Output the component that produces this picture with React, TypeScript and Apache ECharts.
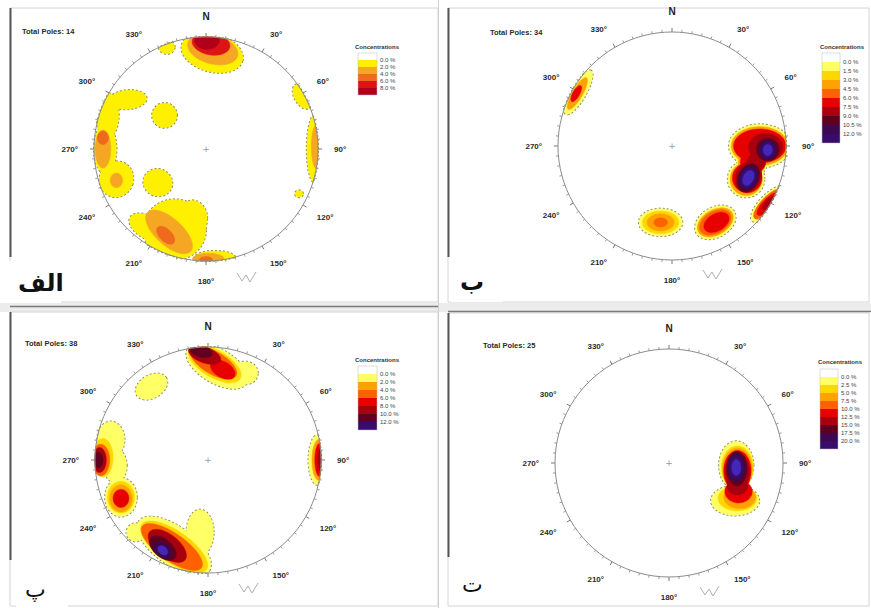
import { useEffect, useRef } from 'react';
import * as echarts from 'echarts';

// ---------- texts ----------
const panelTitles = ['Total Poles: 14', 'Total Poles: 34', 'Total Poles: 38', 'Total Poles: 25'];
const panelTags = ['الف', 'ب', 'پ', 'ت'];
const legendTitle = 'Concentrations';
const legendLabelsA = ['0.0 %', '2.0 %', '4.0 %', '6.0 %', '8.0 %'];
const legendLabelsB = ['0.0 %', '1.5 %', '3.0 %', '4.5 %', '6.0 %', '7.5 %', '9.0 %', '10.5 %', '12.0 %'];
const legendLabelsP = ['0.0 %', '2.0 %', '4.0 %', '6.0 %', '8.0 %', '10.0 %', '12.0 %'];
const legendLabelsT = ['0.0 %', '2.5 %', '5.0 %', '7.5 %', '10.0 %', '12.5 %', '15.0 %', '17.5 %', '20.0 %'];

// ---------- contour shapes ----------
// [east, north, semi-axis a, semi-axis b, rotation (deg), contour level] in unit-net coordinates
const blobsA = [
  [0.055, 0.86, 0.28, 0.17, -15, 1],
  [0.06, 0.89, 0.23, 0.13, -15, 2],
  [0.045, 0.94, 0.17, 0.1, -10, 4],
  [0.01, 0.97, 0.11, 0.08, 0, 5],
  [-0.35, 0.91, 0.07, 0.06, 0, 1],
  [-0.7, 0.44, 0.17, 0.085, 5, 1],
  [-0.88, 0.3, 0.1, 0.2, 0, 1],
  [-0.9, 0.0, 0.1, 0.22, 0, 1],
  [-0.8, -0.27, 0.15, 0.16, -20, 1],
  [-0.92, 0.0, 0.07, 0.17, 0, 2],
  [-0.92, 0.1, 0.05, 0.06, 0, 3],
  [-0.8, -0.28, 0.055, 0.065, 0, 2],
  [-0.37, 0.3, 0.11, 0.11, 0, 1],
  [-0.43, -0.3, 0.13, 0.12, -20, 1],
  [0.86, 0.47, 0.12, 0.07, -60, 1],
  [0.97, 0.0, 0.07, 0.3, 0, 1],
  [0.99, 0.02, 0.05, 0.2, 0, 2],
  [0.83, -0.4, 0.035, 0.03, 0, 1],
  [-0.28, -0.72, 0.28, 0.27, 0, 1],
  [-0.52, -0.7, 0.18, 0.1, -30, 1],
  [-0.12, -0.62, 0.13, 0.16, 0, 1],
  [0.08, -0.97, 0.18, 0.06, 0, 1],
  [-0.33, -0.74, 0.26, 0.12, -42, 2],
  [-0.36, -0.77, 0.1, 0.055, -45, 3],
  [0.02, -0.98, 0.14, 0.05, 0, 2],
  [0.0, -0.99, 0.06, 0.03, 0, 3],
];

const blobsB = [
  [-0.82, 0.47, 0.22, 0.065, 60, 1],
  [-0.83, 0.46, 0.16, 0.045, 60, 3],
  [-0.84, 0.46, 0.08, 0.03, 60, 5],
  [0.77, 0.0, 0.27, 0.19, 0, 1],
  [0.65, -0.29, 0.16, 0.16, 0, 1],
  [0.7, -0.15, 0.13, 0.12, 0, 1],
  [0.77, 0.0, 0.25, 0.17, 0, 3],
  [0.65, -0.29, 0.14, 0.145, 0, 3],
  [0.7, -0.15, 0.12, 0.11, 0, 3],
  [0.77, 0.0, 0.23, 0.15, 0, 5],
  [0.66, -0.28, 0.13, 0.13, 60, 5],
  [0.71, -0.14, 0.11, 0.1, 0, 5],
  [0.82, -0.01, 0.15, 0.12, 0, 6],
  [0.67, -0.27, 0.14, 0.11, 65, 6],
  [0.74, -0.14, 0.08, 0.08, 0, 6],
  [0.84, -0.03, 0.1, 0.1, 0, 7],
  [0.67, -0.28, 0.13, 0.09, 65, 7],
  [0.84, -0.035, 0.075, 0.085, 0, 8],
  [0.67, -0.28, 0.11, 0.08, 65, 8],
  [0.84, -0.035, 0.06, 0.07, 0, 9],
  [0.67, -0.28, 0.09, 0.065, 65, 9],
  [0.84, -0.035, 0.04, 0.05, 0, 10],
  [0.67, -0.28, 0.07, 0.045, 65, 10],
  [0.84, -0.51, 0.2, 0.075, 47, 1],
  [0.84, -0.51, 0.17, 0.06, 47, 4],
  [0.84, -0.51, 0.13, 0.045, 47, 5],
  [0.85, -0.5, 0.08, 0.03, 47, 6],
  [-0.1, -0.67, 0.19, 0.12, 0, 1],
  [-0.1, -0.67, 0.16, 0.1, 0, 2],
  [-0.1, -0.67, 0.12, 0.075, 0, 3],
  [-0.1, -0.67, 0.06, 0.04, 0, 4],
  [0.38, -0.67, 0.19, 0.13, 30, 1],
  [0.38, -0.67, 0.17, 0.11, 30, 3],
  [0.38, -0.67, 0.15, 0.095, 30, 4],
  [0.39, -0.67, 0.12, 0.075, 30, 5],
];

const blobsP = [
  [0.08, 0.83, 0.3, 0.15, -30, 1],
  [0.33, 0.77, 0.11, 0.1, 0, 1],
  [0.06, 0.85, 0.26, 0.12, -30, 2],
  [0.05, 0.86, 0.23, 0.1, -30, 4],
  [0.13, 0.8, 0.12, 0.07, -30, 5],
  [-0.03, 0.93, 0.15, 0.07, -20, 6],
  [-0.06, 0.96, 0.1, 0.05, -15, 7],
  [-0.5, 0.65, 0.15, 0.1, 30, 1],
  [0.97, 0.0, 0.08, 0.22, 0, 1],
  [0.98, 0.0, 0.06, 0.18, 0, 3],
  [0.99, 0.0, 0.045, 0.15, 0, 5],
  [1.0, 0.0, 0.03, 0.1, 0, 6],
  [-0.86, 0.18, 0.12, 0.16, 0, 1],
  [-0.82, -0.05, 0.1, 0.15, 0, 1],
  [-0.77, -0.33, 0.14, 0.17, 0, 1],
  [-0.93, 0.02, 0.09, 0.17, 0, 2],
  [-0.77, -0.33, 0.12, 0.14, 0, 2],
  [-0.95, 0.0, 0.08, 0.14, 0, 4],
  [-0.77, -0.34, 0.1, 0.12, 0, 3],
  [-0.77, -0.34, 0.07, 0.08, 0, 5],
  [-0.96, 0.0, 0.06, 0.11, 0, 6],
  [-0.97, 0.0, 0.04, 0.07, 0, 7],
  [-0.3, -0.76, 0.38, 0.17, -35, 1],
  [-0.07, -0.64, 0.12, 0.2, 0, 1],
  [-0.64, -0.64, 0.08, 0.08, 0, 1],
  [-0.3, -0.77, 0.35, 0.14, -35, 2],
  [-0.32, -0.77, 0.32, 0.12, -35, 4],
  [-0.36, -0.76, 0.2, 0.1, -38, 6],
  [-0.4, -0.78, 0.14, 0.08, -40, 7],
  [-0.4, -0.8, 0.09, 0.06, -40, 8],
  [-0.4, -0.8, 0.05, 0.035, -40, 10],
];

const blobsT = [
  [0.59, -0.02, 0.15, 0.21, 0, 1],
  [0.58, -0.33, 0.21, 0.13, 0, 1],
  [0.6, -0.04, 0.14, 0.19, 0, 2],
  [0.6, -0.31, 0.17, 0.11, 0, 2],
  [0.6, -0.05, 0.13, 0.18, 0, 3],
  [0.62, -0.3, 0.14, 0.1, 0, 3],
  [0.6, -0.07, 0.12, 0.18, 0, 5],
  [0.61, -0.25, 0.12, 0.1, 0, 5],
  [0.6, -0.08, 0.105, 0.17, 0, 6],
  [0.6, -0.2, 0.09, 0.08, 0, 6],
  [0.595, -0.05, 0.09, 0.15, 0, 7],
  [0.59, -0.04, 0.075, 0.12, 0, 8],
  [0.59, -0.04, 0.06, 0.095, 0, 9],
  [0.59, -0.04, 0.04, 0.07, 0, 10],
];

// ---------- styles / layout ----------
const warmPalette = ['#ffffff', '#fff000', '#f5a623', '#ee6a1c', '#dc1414', '#b0001c'];
const hotPalette = ['#ffffff', '#ffff66', '#ffd700', '#ffa200', '#ff6000', '#e80000', '#a8000e', '#600020', '#3e0850', '#380c6c', '#4426b8'];

const layout = [
  { cx: 206, cy: 149, r: 112 },
  { cx: 672, cy: 146, r: 114 },
  { cx: 208, cy: 460, r: 113 },
  { cx: 669, cy: 463, r: 114 },
];
const titlePos = [[22, 31], [490, 32], [25, 343], [483, 345]];
const legendPos = [
  { x: 358, y: 53, w: 19, h: 7, tx: 355, ty: 47 },
  { x: 822, y: 53, w: 18, h: 9, tx: 820, ty: 47 },
  { x: 358, y: 366, w: 19, h: 8, tx: 355, ty: 360 },
  { x: 820, y: 369, w: 18, h: 8, tx: 818, ty: 362 },
];
const legendColors = [
  warmPalette,
  hotPalette.slice(0, 10),
  [0, 1, 3, 4, 5, 6, 7, 9].map((i) => hotPalette[i]),
  hotPalette.slice(0, 10),
];
const legendLabels = [legendLabelsA, legendLabelsB, legendLabelsP, legendLabelsT];
const panelBlobs = [blobsA, blobsB, blobsP, blobsT];
const panelPalettes = [warmPalette, hotPalette, hotPalette, hotPalette];
const tagStyle = [
  { x: 18, y: 283, size: 24, weight: 'bold' },
  { x: 460, y: 282, size: 24, weight: 'bold' },
  { x: 25, y: 589, size: 22, weight: 'normal' },
  { x: 462, y: 584, size: 22, weight: 'normal' },
];

function makeRender(palette: string[]) {
  return (_params: any, api: any) => {
    const x = api.value(0);
    const y = api.value(1);
    const a = api.value(2);
    const b = api.value(3);
    const rot = (api.value(4) * Math.PI) / 180;
    const lvl = api.value(5);
    const pass = api.value(6);
    const pts: number[][] = [];
    const n = 72;
    for (let k = 0; k < n; k++) {
      const t = (2 * Math.PI * k) / n;
      const ex = a * Math.cos(t);
      const ey = b * Math.sin(t);
      let px = x + ex * Math.cos(rot) - ey * Math.sin(rot);
      let py = y + ex * Math.sin(rot) + ey * Math.cos(rot);
      const d = Math.hypot(px, py);
      if (d > 1) {
        px /= d;
        py /= d;
      }
      pts.push(api.coord([px, py]));
    }
    if (pass === 0) {
      return {
        type: 'polygon',
        shape: { points: pts },
        style: { fill: 'none', stroke: '#7a7a40', lineWidth: 2, lineDash: [2, 2] },
      };
    }
    return {
      type: 'polygon',
      shape: { points: pts },
      style: { fill: palette[lvl], stroke: palette[lvl], lineWidth: 0.5 },
    };
  };
}

function buildData(blobs: number[][]) {
  const outlines = blobs.filter((d) => d[5] === 1).map((d) => [...d, 0]);
  const fills = blobs
    .map((d, i) => ({ d, i }))
    .sort((p, q) => p.d[5] - q.d[5] || p.i - q.i)
    .map((p) => [...p.d, 1]);
  return [...outlines, ...fills];
}

export default function App() {
  const ref = useRef<HTMLDivElement>(null);

  useEffect(() => {
    if (!ref.current) return;
    const chart = echarts.init(ref.current, undefined, { renderer: 'svg' });

    const labelFmt = (v: number) => (v === 0 ? '{n|N}' : v === 360 ? '' : v + '°');

    const graphic: any[] = [];
    graphic.push(
      { type: 'rect', shape: { x: 10, y: 8, width: 428, height: 294 }, style: { fill: 'none', stroke: '#d4d4d4' }, z: 0 },
      { type: 'rect', shape: { x: 448, y: 8, width: 421, height: 294 }, style: { fill: 'none', stroke: '#d4d4d4' }, z: 0 },
      { type: 'rect', shape: { x: 0, y: 303, width: 871, height: 9 }, style: { fill: '#ececec' }, z: 0 },
      { type: 'line', shape: { x1: 10, y1: 306.5, x2: 438, y2: 306.5 }, style: { stroke: '#7a7a7a', lineWidth: 1.5 }, z: 1 },
      { type: 'line', shape: { x1: 448, y1: 311.5, x2: 871, y2: 311.5 }, style: { stroke: '#7a7a7a', lineWidth: 1.5 }, z: 1 },
      { type: 'rect', shape: { x: 10, y: 312, width: 428, height: 294 }, style: { fill: 'none', stroke: '#d4d4d4' }, z: 0 },
      { type: 'rect', shape: { x: 448, y: 313, width: 421, height: 293 }, style: { fill: 'none', stroke: '#d4d4d4' }, z: 0 },
      { type: 'line', shape: { x1: 438.5, y1: 0, x2: 438.5, y2: 608 }, style: { stroke: '#cfcfcf', lineWidth: 1 }, z: 1 },
      { type: 'line', shape: { x1: 10.5, y1: 8, x2: 10.5, y2: 257 }, style: { stroke: '#555', lineWidth: 2 }, z: 1 },
      { type: 'line', shape: { x1: 448.5, y1: 8, x2: 448.5, y2: 257 }, style: { stroke: '#555', lineWidth: 2 }, z: 1 },
      { type: 'line', shape: { x1: 10.5, y1: 312, x2: 10.5, y2: 560 }, style: { stroke: '#555', lineWidth: 2 }, z: 1 },
      { type: 'line', shape: { x1: 448.5, y1: 313, x2: 448.5, y2: 557 }, style: { stroke: '#555', lineWidth: 2 }, z: 1 }
    );

    layout.forEach((p, i) => {
      graphic.push({
        type: 'text',
        x: titlePos[i][0],
        y: titlePos[i][1],
        style: { text: panelTitles[i], fill: '#2a2a2a', fontSize: 7.5, fontWeight: 'bold', fontFamily: 'Liberation Sans', verticalAlign: 'middle' },
        z: 5,
      });
      graphic.push({
        type: 'text',
        x: p.cx,
        y: p.cy,
        style: { text: '+', fill: '#999', fontSize: 9, fontFamily: 'DejaVu Sans', align: 'center', verticalAlign: 'middle' },
        z: 5,
      });
      graphic.push({
        type: 'polyline',
        shape: {
          points: [
            [p.cx + 31, p.cy + 124],
            [p.cx + 36, p.cy + 132],
            [p.cx + 40, p.cy + 126],
            [p.cx + 44, p.cy + 133],
            [p.cx + 50, p.cy + 123],
          ],
        },
        style: { stroke: '#b0b0b0', lineWidth: 1, fill: 'none' },
        z: 5,
      });
      const lg = legendPos[i];
      graphic.push({
        type: 'text',
        x: lg.tx,
        y: lg.ty,
        style: { text: legendTitle, fill: '#333', fontSize: 6, fontWeight: 'bold', fontFamily: 'Liberation Sans', verticalAlign: 'middle' },
        z: 5,
      });
      legendColors[i].forEach((c, k) => {
        graphic.push({
          type: 'rect',
          shape: { x: lg.x, y: lg.y + k * lg.h, width: lg.w, height: lg.h },
          style: { fill: c, stroke: 'none' },
          z: 5,
        });
      });
      graphic.push({
        type: 'rect',
        shape: { x: lg.x, y: lg.y, width: lg.w, height: legendColors[i].length * lg.h },
        style: { fill: 'none', stroke: '#bbb', lineWidth: 0.5 },
        z: 6,
      });
      legendLabels[i].forEach((t, k) => {
        graphic.push({
          type: 'text',
          x: lg.x + lg.w + 3,
          y: lg.y + (k + 1) * lg.h,
          style: { text: t, fill: '#444', fontSize: 6, fontFamily: 'Liberation Sans', verticalAlign: 'middle' },
          z: 6,
        });
      });
      const ts = tagStyle[i];
      graphic.push({
        type: 'rect',
        shape: { x: ts.x - 9, y: ts.y - 22, width: 52, height: 42 },
        style: { fill: '#ffffff' },
        z: 7,
      });
      graphic.push({
        type: 'text',
        x: ts.x,
        y: ts.y,
        style: {
          text: panelTags[i],
          fill: '#111',
          fontSize: ts.size,
          fontWeight: ts.weight,
          fontFamily: 'DejaVu Sans',
          verticalAlign: 'middle',
          align: 'left',
        },
        z: 8,
      });
    });

    const option: any = {
      animation: false,
      backgroundColor: '#ffffff',
      polar: layout.map((p) => ({ center: [p.cx, p.cy], radius: p.r })),
      angleAxis: layout.map((_p, i) => ({
        polarIndex: i,
        type: 'value',
        min: 0,
        max: 360,
        interval: 30,
        startAngle: 90,
        clockwise: true,
        z: 5,
        axisLine: { lineStyle: { color: '#8c8c8c', width: 1 } },
        axisTick: { show: true, length: 4, lineStyle: { color: '#777' } },
        minorTick: { show: true, splitNumber: 6, length: 2.5, lineStyle: { color: '#9a9a9a' } },
        splitLine: { show: false },
        minorSplitLine: { show: false },
        axisLabel: {
          margin: 16,
          fontSize: 8,
          fontWeight: 'bold',
          color: '#2a2a2a',
          fontFamily: 'Liberation Sans',
          formatter: labelFmt,
          rich: { n: { fontSize: 10, fontWeight: 'bold', color: '#222', fontFamily: 'Liberation Sans' } },
        },
      })),
      radiusAxis: layout.map((_p, i) => ({ polarIndex: i, type: 'value', min: 0, max: 1, show: false })),
      grid: layout.map((p) => ({ left: p.cx - p.r, top: p.cy - p.r, width: 2 * p.r, height: 2 * p.r, show: false })),
      xAxis: layout.map((_p, i) => ({ gridIndex: i, type: 'value', min: -1, max: 1, show: false })),
      yAxis: layout.map((_p, i) => ({ gridIndex: i, type: 'value', min: -1, max: 1, show: false })),
      series: panelBlobs.map((b, i) => ({
        type: 'custom',
        xAxisIndex: i,
        yAxisIndex: i,
        silent: true,
        z: 2,
        dimensions: ['x', 'y', 'a', 'b', 'rot', 'lvl', 'pass'],
        encode: { x: 'x', y: 'y' },
        renderItem: makeRender(panelPalettes[i]),
        data: buildData(b),
      })),
      graphic,
    };

    chart.setOption(option);
    return () => chart.dispose();
  }, []);

  return (
    <div
      ref={ref}
      style={{ position: 'fixed', left: 0, top: 0, width: 871, height: 608, background: '#fff' }}
    />
  );
}
